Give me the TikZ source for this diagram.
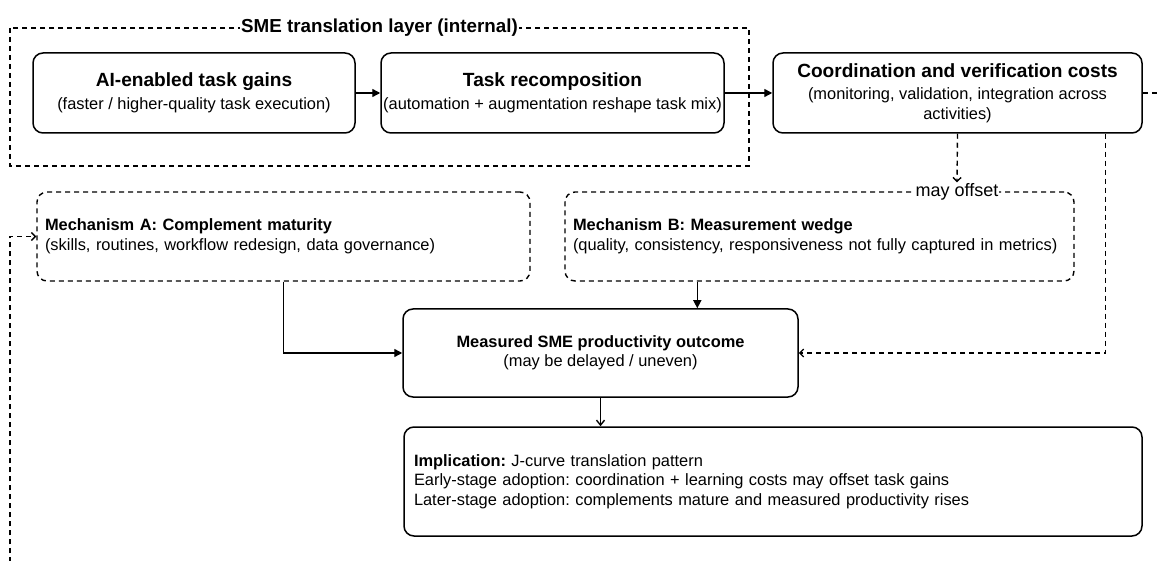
\documentclass[tikz,border=0pt]{standalone}
\usepackage{fontspec}
\setmainfont{Liberation Sans}
\frenchspacing
\usetikzlibrary{arrows.meta,calc}
\newcommand\fTitle{\fontsize{19.1}{23}\selectfont\bfseries}
\newcommand\fFrame{\fontsize{18.8}{22}\selectfont\bfseries}
\newcommand\fBody{\fontsize{16.4}{19.5}\selectfont\mdseries}
\newcommand\fBodyB{\fontsize{16.4}{19.5}\selectfont\bfseries}
\newcommand\fLab{\fontsize{18}{21}\selectfont\mdseries}
\tikzset{
  solidbox/.style={draw=black, line width=1.5pt, rounded corners=10pt, inner xsep=1pt, inner ysep=2pt, align=center, font=\fBody},
  dashbox/.style={draw=black, line width=1.4pt, dash pattern=on 5pt off 4pt, rounded corners=10pt, align=left, inner xsep=8pt, font=\fBody},
  frameline/.style={draw=black, line width=1.4pt, dash pattern=on 5pt off 4pt},
  arr/.style={draw=black, line width=1.4pt, -{Triangle[length=8pt,width=8pt]}},
  thinarr/.style={draw=black, line width=1.4pt, -{Straight Barb[length=5pt,width=8pt]}},
  darr/.style={draw=black, line width=1.4pt, dash pattern=on 5pt off 4pt, -{Straight Barb[length=4pt,width=8pt]}},
  onborder/.style={fill=white, inner xsep=1pt, inner ysep=1pt}
}
\begin{document}
\begin{tikzpicture}[x=1pt,y=-1pt]
\path[use as bounding box] (0,0) rectangle (1157,561);
\clip (0,0) rectangle (1157,561);

% frame
\draw[frameline] (10,28) rectangle (749,166);
\node[onborder, font=\fFrame] (frametitle) at (379.5,28) {SME translation layer (internal)};

% top row
\node[solidbox, minimum width=322pt, minimum height=80pt] (gains) at (194,93)
  {\fTitle AI-enabled task gains\\[4pt]\fBody (faster / higher-quality task execution)};
\node[solidbox, minimum width=343pt, minimum height=80pt] (recomp) at (552.5,93)
  {\fTitle Task recomposition\\[4pt]\fBody (automation + augmentation reshape task mix)};
\node[solidbox, minimum width=369pt, minimum height=80pt] (coord) at (957.5,93)
  {\fTitle Coordination and verification costs\\[3pt]\fBody (monitoring, validation, integration across\\\fBody activities)};

% mechanisms
\node[dashbox, minimum width=493pt, minimum height=89pt, text width=477pt] (mechA) at (283.5,236.5)
  {\fBodyB Mechanism A: Complement maturity\\\fBody (skills, routines, workflow redesign, data governance)};
\node[dashbox, minimum width=509pt, minimum height=89pt, text width=493pt] (mechB) at (819.5,236.5)
  {\fBodyB Mechanism B: Measurement wedge\\\fBody (quality, consistency, responsiveness not fully captured in metrics)};
\node[onborder, font=\fLab] (may) at (957,192) {may offset};

% outcome
\node[solidbox, minimum width=395pt, minimum height=88pt] (measured) at (600.5,353)
  {\fBodyB Measured SME productivity outcome\\\fBody (may be delayed / uneven)};
\node[solidbox, minimum width=738pt, minimum height=109pt, text width=718pt, align=left, inner xsep=10pt] (impl) at (773,481.5)
  {\textbf{Implication:} J-curve translation pattern\\
   Early-stage adoption: coordination + learning costs may offset task gains\\
   Later-stage adoption: complements mature and measured productivity rises};

% connectors
\draw[arr] (gains.east) -- (recomp.west);
\draw[arr] (recomp.east) -- (coord.west);
\draw[darr] (coord.south) -- (may.north);
\draw[darr] ([xshift=-37pt]coord.south east) |- (measured.east);
\draw[arr] (mechA.south) |- (measured.west);
\draw[arr] ([xshift=133pt]mechB.south west) -- ([xshift=133pt]mechB.south west |- measured.north);
\draw[thinarr] (measured.south) -- (impl.north -| measured.south);

% feedback loop leaving the picture
\coordinate (fbA) at (1220,93);
\coordinate (fbB) at (1220,620);
\coordinate (fbC) at (10,620);
\coordinate (fbD) at (10,236.5);
\draw[darr] (coord.east) -- (fbA) -- (fbB) -- (fbC) -- (fbD) -- (mechA.west);
\end{tikzpicture}
\end{document}
